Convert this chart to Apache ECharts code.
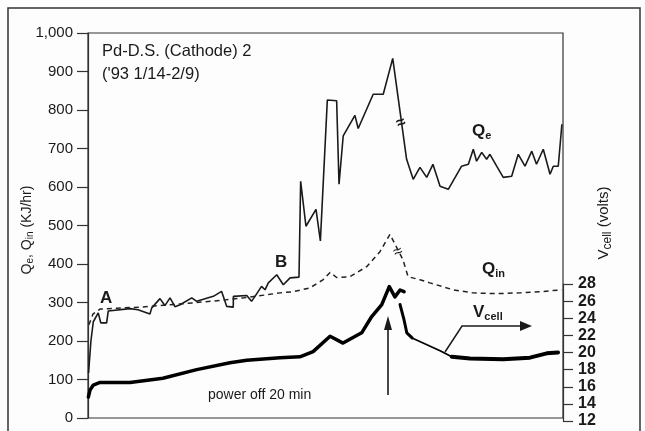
<!DOCTYPE html>
<html>
<head>
<meta charset="utf-8">
<script src="https://cdn.jsdelivr.net/npm/echarts@6/dist/echarts.min.js"></script>
<style>
  html, body { margin: 0; padding: 0; background: #fdfdfd; }
  #chart { width: 645px; height: 431px; }
</style>
</head>
<body>
<div id="chart"></div>
<script>
// x = days since 1/14 ('93), Q in KJ/hr, Vcell in volts
const qeDays = [0.03, 0.16, 0.29, 0.56, 0.70, 1.02, 1.11, 2.30, 2.74, 3.39, 3.49, 3.94, 4.21, 4.49, 4.76, 5.04, 5.68, 5.95, 6.86, 7.31, 7.59, 7.95, 7.96, 8.69, 8.95, 9.14, 9.50, 9.69, 9.87, 10.33, 10.69, 11.06, 11.55, 11.64, 11.93, 12.48, 12.72, 13.10, 13.61, 13.74, 13.97, 14.61, 14.79, 15.61, 16.16, 16.68, 17.44, 17.80, 18.17, 18.54, 18.88, 19.27, 19.72, 20.45, 20.82, 21.09, 21.27, 21.55, 21.82, 22.00, 22.37, 22.73, 23.19, 23.55, 23.92, 24.29, 24.55, 24.92, 25.29, 25.47, 25.74, 25.94];
const qeValues = [117, 200, 250, 273, 247, 247, 278, 284, 281, 270, 286, 310, 292, 312, 289, 294, 312, 303, 316, 329, 290, 288, 316, 318, 303, 316, 342, 333, 351, 372, 346, 364, 366, 615, 498, 542, 460, 826, 824, 607, 733, 786, 752, 841, 841, 934, 672, 620, 651, 625, 659, 602, 594, 654, 659, 698, 667, 690, 672, 685, 654, 625, 628, 685, 654, 693, 659, 698, 633, 654, 654, 763];

const qinDays = [0.05, 0.27, 0.66, 1.09, 2.85, 5.00, 7.20, 8.50, 9.78, 10.51, 11.22, 12.15, 12.86, 13.25, 13.61, 14.34, 15.25, 15.98, 16.53, 17.24, 17.52, 18.17, 18.72, 19.98, 21.07, 22.37, 23.65, 24.74, 25.93];
const qinValues = [242, 270, 283, 284, 288, 296, 305, 312, 320, 325, 328, 338, 359, 378, 365, 367, 393, 432, 477, 411, 367, 359, 351, 333, 325, 323, 325, 328, 333];

const vBeforeDays = [0.02, 0.11, 0.29, 0.66, 2.30, 4.10, 5.95, 7.77, 8.69, 10.51, 11.60, 12.32, 13.25, 13.96, 14.98, 15.53, 16.08, 16.49, 16.80, 17.08, 17.30];
const vBeforeVolts = [14.8, 15.6, 16.2, 16.5, 16.5, 17.0, 18.0, 18.8, 19.1, 19.4, 19.5, 20.1, 21.9, 21.1, 22.3, 24.2, 25.6, 27.7, 26.5, 27.3, 27.1];

// after power off: steep drop, then the thin slope, then the flat part
const vDropDays = [17.08, 17.30, 17.45, 17.74];
const vDropVolts = [25.6, 23.8, 22.3, 21.7];
const vSlopeDays = [17.74, 19.27, 19.91];
const vSlopeVolts = [21.7, 20.2, 19.5];
const vFlatDays = [19.91, 20.91, 22.72, 24.19, 25.11, 25.73];
const vFlatVolts = [19.5, 19.3, 19.2, 19.4, 19.9, 20.0];

const zip = (xs, ys) => xs.map((x, i) => [x, ys[i]]);

const font = 'Liberation Sans, Arial, sans-serif';
const ink = '#1a1a1a';

function txt(x, y, text, size, extra) {
  return Object.assign({
    type: 'text', x: x, y: y, silent: true,
    style: { text: text, font: size + ' ' + font, fill: ink, textAlign: 'left', textVerticalAlign: 'middle' }
  }, extra || {});
}
function richTxt(x, y, text, rich, rotation) {
  return {
    type: 'text', x: x, y: y, silent: true, rotation: rotation || 0,
    style: { text: text, rich: rich, fill: ink, textAlign: rotation ? 'center' : 'left', textVerticalAlign: 'middle' }
  };
}
function vLine(name, data, width) {
  return {
    name: name, type: 'line', xAxisIndex: 1, yAxisIndex: 1, showSymbol: false,
    data: data, lineStyle: { color: '#000', width: width, cap: 'round', join: 'round' }
  };
}

const subRich = {
  m: { fontSize: 17, fontWeight: 'bold', fontFamily: font, color: ink },
  s: { fontSize: 11, fontWeight: 'bold', fontFamily: font, color: ink, padding: [9, 0, 0, 0] }
};
const axisRich = {
  m: { fontSize: 14, fontFamily: font, color: ink },
  s: { fontSize: 10, fontFamily: font, color: ink, padding: [7, 0, 0, 0] }
};
const axisRichR = {
  m: { fontSize: 15, fontFamily: font, color: ink },
  s: { fontSize: 12, fontFamily: font, color: ink, padding: [8, 0, 0, 0] }
};

const chart = echarts.init(document.getElementById('chart'));
chart.setOption({
  backgroundColor: '#fdfdfd',
  animation: false,
  grid: [
    { left: 88, top: 33, right: 82, bottom: 13, show: true, borderColor: '#333', borderWidth: 1.2, backgroundColor: 'transparent' },
    { left: 88, top: 284, right: 82, bottom: 10 }
  ],
  xAxis: [
    { type: 'value', gridIndex: 0, min: 0, max: 26, show: false },
    { type: 'value', gridIndex: 1, min: 0, max: 26, show: false }
  ],
  yAxis: [
    {
      type: 'value', gridIndex: 0, min: 0, max: 1000, interval: 100,
      axisLine: { show: true, onZero: false, lineStyle: { color: '#333', width: 1.2 } },
      axisTick: { show: true, length: 11, lineStyle: { color: '#333', width: 1.2 } },
      axisLabel: {
        margin: 15, fontSize: 15, color: ink, fontFamily: font,
        formatter: v => v >= 1000 ? '1,000' : String(v)
      },
      splitLine: { show: false }
    },
    {
      type: 'value', gridIndex: 1, position: 'right', min: 12, max: 28, interval: 2,
      axisLine: { show: true, onZero: false, lineStyle: { color: '#333', width: 1.2 } },
      axisTick: { show: true, length: 10, lineStyle: { color: '#333', width: 1.2 } },
      axisLabel: { margin: 15, fontSize: 16, color: ink, fontFamily: font, fontWeight: 'bold' },
      splitLine: { show: false }
    }
  ],
  series: [
    {
      name: 'Qe', type: 'line', xAxisIndex: 0, yAxisIndex: 0, showSymbol: false,
      data: zip(qeDays, qeValues),
      lineStyle: { color: ink, width: 1.6 }
    },
    {
      name: 'Qin', type: 'line', xAxisIndex: 0, yAxisIndex: 0, showSymbol: false,
      data: zip(qinDays, qinValues),
      lineStyle: { color: '#222', width: 1.5, type: [5, 4] }
    },
    vLine('Vcell', zip(vBeforeDays, vBeforeVolts), 3.5),
    vLine('Vcell drop', zip(vDropDays, vDropVolts), 3),
    vLine('Vcell slope', zip(vSlopeDays, vSlopeVolts), 1.8),
    vLine('Vcell flat', zip(vFlatDays, vFlatVolts), 4)
  ],
  graphic: [
    { type: 'rect', silent: true, shape: { x: 8, y: 8, width: 632, height: 450 }, style: { fill: null, stroke: '#333', lineWidth: 1.5 } },
    txt(102, 51, 'Pd-D.S. (Cathode) 2', '16.5px'),
    txt(102, 74, "('93 1/14-2/9)", '16.5px'),
    txt(100, 298, 'A', 'bold 17px'),
    txt(275, 262, 'B', 'bold 17px'),
    richTxt(472, 131, '{m|Q}{s|e}', subRich),
    richTxt(482, 269, '{m|Q}{s|in}', subRich),
    richTxt(473, 312, '{m|V}{s|cell}', subRich),
    { type: 'polyline', silent: true, shape: { points: [[445, 352], [462, 326], [522, 326]] }, style: { fill: null, stroke: ink, lineWidth: 1.5 } },
    { type: 'polygon', silent: true, shape: { points: [[520, 321], [532, 326], [520, 331]] }, style: { fill: ink } },
    txt(208, 395, 'power off 20 min', '14px'),
    { type: 'line', silent: true, shape: { x1: 388, y1: 395, x2: 388, y2: 326 }, style: { stroke: ink, lineWidth: 1.6 } },
    { type: 'polygon', silent: true, shape: { points: [[384, 330], [388, 316], [392, 330]] }, style: { fill: ink } },
    // break marks
    { type: 'text', silent: true, x: 401, y: 123, rotation: 0.4, style: { text: '\u2248', font: 'bold 16px ' + font, fill: ink, textAlign: 'center', textVerticalAlign: 'middle' } },
    { type: 'text', silent: true, x: 398, y: 252, rotation: 0.4, style: { text: '\u2248', font: '16px ' + font, fill: ink, textAlign: 'center', textVerticalAlign: 'middle' } },
    // axis titles
    richTxt(27, 230, '{m|Q}{s|e}{m|, Q}{s|in}{m| (KJ/hr)}', axisRich, Math.PI / 2),
    richTxt(604, 223, '{m|V}{s|cell}{m| (volts)}', axisRichR, Math.PI / 2)
  ]
});
</script>
</body>
</html>
